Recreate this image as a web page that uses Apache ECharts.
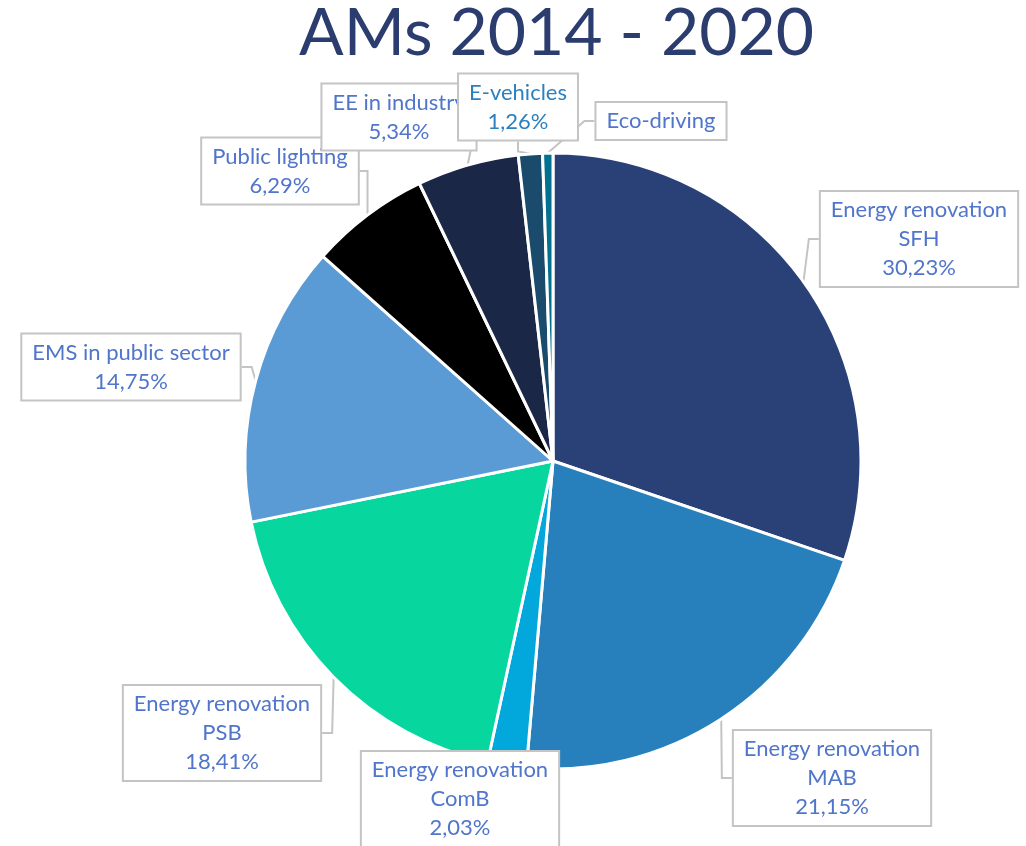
<!DOCTYPE html>
<html>
<head>
<meta charset="utf-8">
<script src="https://cdn.jsdelivr.net/npm/echarts@6/dist/echarts.min.js"></script>
<style>
  html, body { margin: 0; padding: 0; background: #fff; }
  #chart { width: 1026px; height: 846px; }
</style>
</head>
<body>
<div id="chart"></div>
<script>
// data (clockwise from 12 o'clock)
const categories = [
  'Energy renovation\nSFH',
  'Energy renovation\nMAB',
  'Energy renovation\nComB',
  'Energy renovation\nPSB',
  'EMS in public sector',
  'Public lighting',
  'EE in industry',
  'E-vehicles',
  'Eco-driving'
];
const shares = [30.23, 21.15, 2.03, 18.41, 14.75, 6.29, 5.34, 1.26, 0.54];
const sliceColors = ['#2a4178', '#277fbb', '#02a8dc', '#07d69f', '#5b9bd5', '#000000', '#1b2747', '#1a4a6c', '#02708f'];
const showPercent = [true, true, true, true, true, true, true, true, false];

// label box centres (layout only)
const labelPos = [
  [919, 239], [832, 778], [460, 799], [222, 733], [131, 367],
  [280, 171], [399, 117], [518, 107], [661, 121]
];

const chart = echarts.init(document.getElementById('chart'));

const fmt = v => v.toFixed(2).replace('.', ',') + '%';

chart.setOption({
  animation: false,
  title: {
    text: 'AMs 2014 - 2020',
    left: 294,
    top: -4,
    textStyle: { fontFamily: 'Lato', fontWeight: 'normal', fontSize: 66, color: '#2b3d6e' }
  },
  series: [{
    type: 'pie',
    center: [553, 461],
    radius: 308,
    startAngle: 90,
    clockwise: true,
    avoidLabelOverlap: false,
    itemStyle: { borderColor: '#fff', borderWidth: 3 },
    label: {
      show: true,
      position: 'outside',
      fontFamily: 'Lato',
      fontSize: 22,
      lineHeight: 29,
      color: '#5075ca',
      align: 'center',
      backgroundColor: '#fff',
      borderColor: '#c4c4c4',
      borderWidth: 2,
      padding: [4, 10, 3, 10],
      formatter: p => showPercent[p.dataIndex] ? p.name + '\n' + fmt(p.value) : p.name
    },
    labelLine: {
      show: true,
      length: 10,
      length2: 10,
      lineStyle: { color: '#c4c4c4', width: 2 }
    },
    labelLayout: p => ({
      x: labelPos[p.dataIndex][0],
      y: labelPos[p.dataIndex][1],
      align: 'center',
      verticalAlign: 'middle'
    }),
    data: categories.map((name, i) => ({
      name: name,
      value: shares[i],
      itemStyle: { color: sliceColors[i] },
      label: i === 7 ? { color: '#2b80bf' } : undefined
    }))
  }]
});
</script>
</body>
</html>
